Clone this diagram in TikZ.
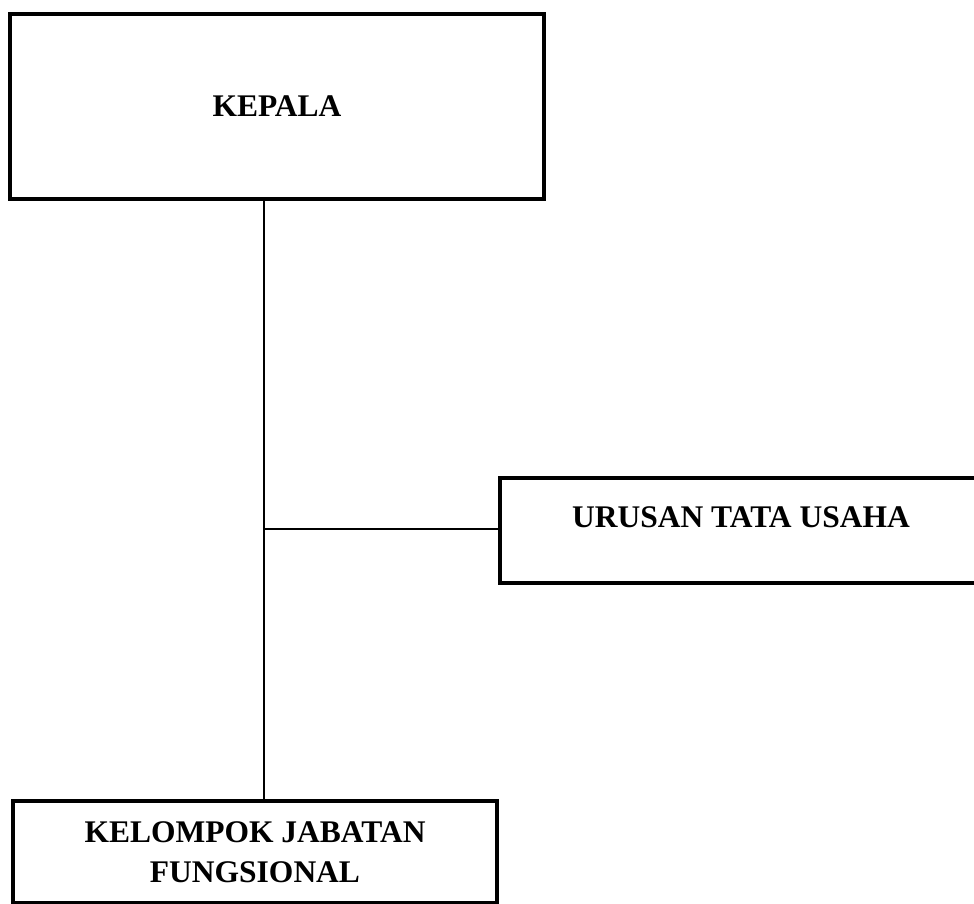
\documentclass[tikz,border=0pt]{standalone}
\usepackage{fontspec}
\setmainfont{Liberation Serif}
\usepackage{tikz}
\usetikzlibrary{calc}

\begin{document}
\begin{tikzpicture}[x=0.5pt,y=-0.5pt,
    unitbox/.style={draw, line width=2.1pt, inner sep=0pt, align=center,
      font=\fontsize{15.75}{20}\selectfont\bfseries},
    link/.style={line width=0.75pt}]
    \clip (0,0) rectangle (974,904);

    \node[unitbox, minimum width=267pt, minimum height=92.5pt] (kepala) at (277,106.5) {KEPALA};
    \node[unitbox, minimum width=241pt, minimum height=52.5pt,
      text height=10.4pt, text depth=13.5pt] (urusan) at (741,530.5) {URUSAN TATA USAHA};
    \node[unitbox, minimum width=242pt, minimum height=51pt] (kelompok) at (255,852) {KELOMPOK JABATAN\\FUNGSIONAL};

    \coordinate (cabang) at (264,529);
    \draw[link] (kepala.south -| cabang) -- (kelompok.north -| cabang);
    \draw[link] (cabang) -- (urusan.west |- cabang);
\end{tikzpicture}
\end{document}
